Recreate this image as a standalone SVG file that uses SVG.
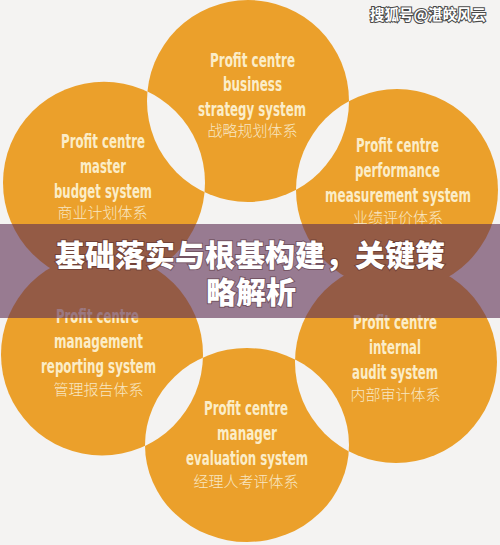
<svg xmlns="http://www.w3.org/2000/svg" width="500" height="545" viewBox="0 0 500 545">
<style>
.bg{fill:#F4F3F2}
.c{fill:#EBA02B}
.lens{fill:#F4F3F2}
.en{font-family:"Liberation Sans Narrow","DejaVu Sans Condensed","Liberation Sans",sans-serif;font-size:19px;font-weight:700;fill:#FBEDC8;text-anchor:middle}
.zh{font-family:"Noto Sans CJK SC","Noto Sans",sans-serif;font-size:15px;fill:#F8E6C2;text-anchor:middle;font-weight:300}
.band{fill:rgb(95,48,85);fill-opacity:0.62}
.title{font-family:"Noto Sans CJK SC","Noto Sans",sans-serif;font-size:30px;font-weight:900;fill:#FFFFFF;text-anchor:middle;stroke:rgba(70,35,40,0.45);stroke-width:2px;paint-order:stroke}
.wm{font-family:"Noto Sans CJK SC","Noto Sans",sans-serif;font-size:14.5px;font-weight:700;fill:#FFFFFF;stroke:#4a4a4a;stroke-width:2px;paint-order:stroke;text-anchor:end}
</style>
<defs>
<clipPath id="clip-top"><circle cx="248" cy="101" r="101"/></clipPath>
<clipPath id="clip-bottom"><ellipse cx="247" cy="445" rx="102" ry="97"/></clipPath>
</defs>
<rect class="bg" x="0" y="0" width="500" height="545"/>

<g id="node-top">
<circle class="c" cx="248" cy="101" r="101"/>
<text class="en" x="252.5" y="67" textLength="85" lengthAdjust="spacingAndGlyphs">Profit centre</text>
<text class="en" x="252.5" y="91" textLength="59" lengthAdjust="spacingAndGlyphs">business</text>
<text class="en" x="252" y="116" textLength="108" lengthAdjust="spacingAndGlyphs">strategy system</text>
<text class="zh" x="252.5" y="136">战略规划体系</text>
</g>

<g id="node-top-left">
<circle class="c" cx="104" cy="182.7" r="101"/>
<text class="en" x="103" y="148" textLength="84" lengthAdjust="spacingAndGlyphs">Profit centre</text>
<text class="en" x="103" y="173" textLength="46" lengthAdjust="spacingAndGlyphs">master</text>
<text class="en" x="103" y="198" textLength="98" lengthAdjust="spacingAndGlyphs">budget system</text>
<text class="zh" x="102.5" y="218">商业计划体系</text>
</g>

<g id="node-top-right">
<circle class="c" cx="397" cy="190" r="101"/>
<text class="en" x="397.5" y="152" textLength="83" lengthAdjust="spacingAndGlyphs">Profit centre</text>
<text class="en" x="397.5" y="177" textLength="85" lengthAdjust="spacingAndGlyphs">performance</text>
<text class="en" x="398" y="202" textLength="146" lengthAdjust="spacingAndGlyphs">measurement system</text>
<text class="zh" x="398" y="223">业绩评价体系</text>
</g>

<g id="node-bottom-left">
<circle class="c" cx="102" cy="354.5" r="101"/>
<text class="en" x="97.5" y="323" textLength="83" lengthAdjust="spacingAndGlyphs">Profit centre</text>
<text class="en" x="98.5" y="348" textLength="89" lengthAdjust="spacingAndGlyphs">management</text>
<text class="en" x="98.5" y="373" textLength="115" lengthAdjust="spacingAndGlyphs">reporting system</text>
<text class="zh" x="98.5" y="395">管理报告体系</text>
</g>

<g id="node-bottom-right">
<circle class="c" cx="396" cy="362" r="101"/>
<text class="en" x="395" y="329" textLength="84" lengthAdjust="spacingAndGlyphs">Profit centre</text>
<text class="en" x="395" y="354" textLength="52" lengthAdjust="spacingAndGlyphs">internal</text>
<text class="en" x="395" y="379" textLength="86" lengthAdjust="spacingAndGlyphs">audit system</text>
<text class="zh" x="395.5" y="400">内部审计体系</text>
</g>

<g id="node-bottom">
<ellipse class="c" cx="247" cy="445" rx="102" ry="97"/>
<text class="en" x="246" y="415" textLength="84" lengthAdjust="spacingAndGlyphs">Profit centre</text>
<text class="en" x="247" y="440" textLength="60" lengthAdjust="spacingAndGlyphs">manager</text>
<text class="en" x="247" y="465" textLength="122" lengthAdjust="spacingAndGlyphs">evaluation system</text>
<text class="zh" x="246" y="487">经理人考评体系</text>
</g>

<g id="connectors">
<circle class="lens" cx="104" cy="182.7" r="101" clip-path="url(#clip-top)"/>
<circle class="lens" cx="397" cy="190" r="101" clip-path="url(#clip-top)"/>
<circle class="lens" cx="102" cy="354.5" r="101" clip-path="url(#clip-bottom)"/>
<circle class="lens" cx="396" cy="362" r="101" clip-path="url(#clip-bottom)"/>
</g>

<g id="banner">
<rect class="band" x="0" y="224" width="500" height="94"/>
<text class="title" x="250" y="266">基础落实与根基构建，关键策</text>
<text class="title" x="251" y="303">略解析</text>
</g>

<text class="wm" x="486" y="20">搜狐号@湛皎风云</text>
</svg>
